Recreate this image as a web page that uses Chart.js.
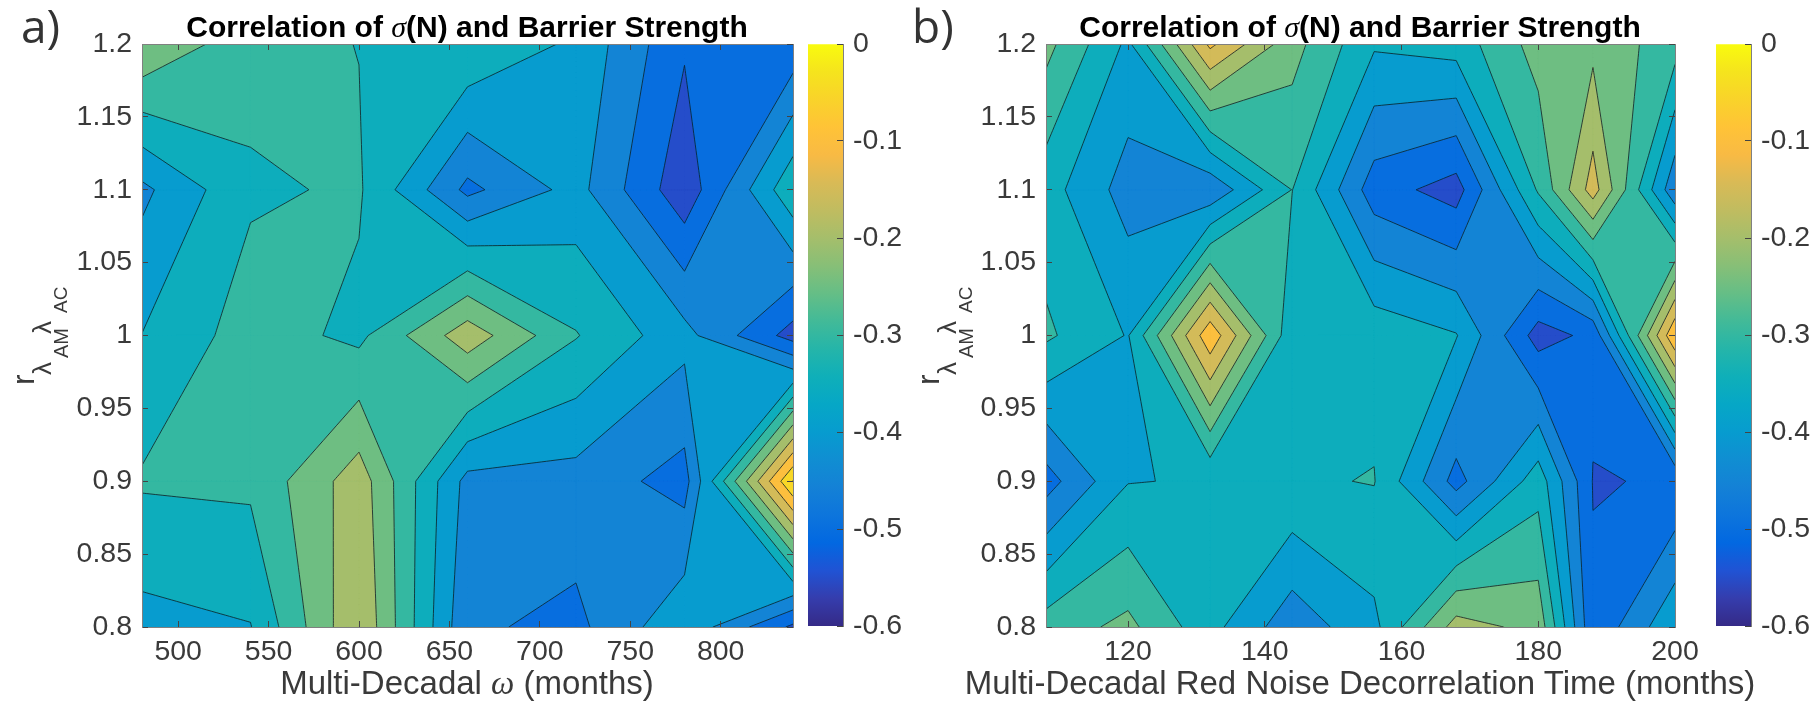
<!DOCTYPE html>
<html>
<head>
<meta charset="utf-8">
<script src="https://cdn.jsdelivr.net/npm/chart.js@4"></script>
<style>
html, body { margin: 0; padding: 0; background: #fff; overflow: hidden; }
body { width: 1814px; height: 702px; position: relative; font-family: "Liberation Sans", sans-serif; }
canvas { position: absolute; top: 0; }
.txt { position: absolute; white-space: nowrap; line-height: 1; color: #3a3a3a; }
.title { font-size: 30px; font-weight: bold; color: #000; transform: translateX(-50%); top: 12px; }
.xlab { font-size: 33px; transform: translateX(-50%); top: 666px; }
.letter { font-family: "Open Sans", sans-serif; font-weight: 400; font-size: 46px; top: 2px; color: #333; }
.rot { transform-origin: 0 0; transform: rotate(-90deg); }
.sym { font-family: "Liberation Serif", serif; font-style: italic; font-weight: normal; }
</style>
</head>
<body>
<canvas id="chartA" width="800" height="702" style="left:0"></canvas>
<canvas id="chartB" width="840" height="702" style="left:882px"></canvas>
<canvas id="barA" width="100" height="702" style="left:808px"></canvas>
<canvas id="barB" width="98" height="702" style="left:1716px"></canvas>

<div class="txt letter" style="left:21px">a)</div>
<div class="txt letter" style="left:912px">b)</div>
<div class="txt title" style="left:467px">Correlation of <span class="sym">σ</span>(N) and Barrier Strength</div>
<div class="txt title" style="left:1360px">Correlation of <span class="sym">σ</span>(N) and Barrier Strength</div>
<div class="txt xlab" style="left:467px">Multi-Decadal <span class="sym">ω</span> (months)</div>
<div class="txt xlab" style="left:1360px">Multi-Decadal Red Noise Decorrelation Time (months)</div>

<!-- y axis labels: r with lambda_AM lambda_AC subscripts -->
<div class="txt rot" style="left:7px;top:385px;font-size:32px">r</div>
<div class="txt rot" style="left:29px;top:375px;font-size:26px">λ</div>
<div class="txt rot" style="left:51px;top:358px;font-size:20px">AM</div>
<div class="txt rot" style="left:29px;top:334px;font-size:26px">λ</div>
<div class="txt rot" style="left:51px;top:313px;font-size:19px">AC</div>
<div class="txt rot" style="left:912px;top:385px;font-size:32px">r</div>
<div class="txt rot" style="left:934px;top:375px;font-size:26px">λ</div>
<div class="txt rot" style="left:956px;top:358px;font-size:20px">AM</div>
<div class="txt rot" style="left:934px;top:334px;font-size:26px">λ</div>
<div class="txt rot" style="left:956px;top:313px;font-size:19px">AC</div>

<script>
// grid nodes of the two contour plots
const yNodes = [1.2, 1.1, 1.0, 0.9, 0.8];
const xNodesA = [480, 540, 600, 660, 720, 780, 840];
const xNodesB = [108, 120, 132, 144, 156, 168, 180, 188, 200];

// correlation values, rows follow yNodes
const valuesA = [
    [-0.202, -0.283, -0.301, -0.303, -0.360, -0.494, -0.485],
    [-0.412, -0.307, -0.294, -0.463, -0.382, -0.535, -0.310],
    [-0.349, -0.276, -0.312, -0.170, -0.297, -0.383, -0.521],
    [-0.294, -0.290, -0.172, -0.417, -0.420, -0.470, 0.003],
    [-0.368, -0.352, -0.153, -0.442, -0.463, -0.361, -0.510]
];
const valuesB = [
    [-0.234, -0.3605, -0.0886, -0.231, -0.343, -0.328, -0.229, -0.214, -0.2775],
    [-0.328, -0.422, -0.440, -0.299, -0.477, -0.522, -0.294, -0.127, -0.438],
    [-0.2915, -0.353, -0.064, -0.3365, -0.318, -0.347, -0.522, -0.487, -0.055],
    [-0.472, -0.352, -0.346, -0.3055, -0.298, -0.469, -0.322, -0.502, -0.497],
    [-0.276, -0.237, -0.333, -0.432, -0.3634, -0.178, -0.216, -0.492, -0.358]
];

const levels = [-0.55, -0.5, -0.45, -0.4, -0.35, -0.3, -0.25, -0.2, -0.15, -0.1, -0.05, 0];

// tick labels
const xTicksA = [500, 550, 600, 650, 700, 750, 800];
const xTicksB = [120, 140, 160, 180, 200];
const yTicks = [0.8, 0.85, 0.9, 0.95, 1, 1.05, 1.1, 1.15, 1.2];
const barTicks = [-0.6, -0.5, -0.4, -0.3, -0.2, -0.1, 0];

// parula, evenly spaced from -0.6 to 0
const parula = ['#352a87', '#353dad', '#2053d4', '#0268e1', '#0d75dc', '#1481d6', '#108ed2', '#079ccf',
    '#06a7c6', '#0fafb9', '#25b5a9', '#42ba98', '#65be86', '#87bf77', '#a5be6b', '#c0bc60',
    '#d9ba56', '#f8ba44', '#ffc337', '#f9d32a', '#f5e41d', '#f9fb0e'];

const tickFont = { family: 'Liberation Sans', size: 28.5 };
const tickColor = '#3a3a3a';
const frameColor = '#808080';

function hexToRgb(h) {
    return [1, 3, 5].map(i => parseInt(h.substr(i, 2), 16));
}

// colour of a level on the -0.6..0 colour axis
function levelColor(v) {
    const t = Math.min(1, Math.max(0, (v + 0.6) / 0.6)) * (parula.length - 1);
    const i = Math.min(parula.length - 2, Math.floor(t));
    const a = hexToRgb(parula[i]);
    const b = hexToRgb(parula[i + 1]);
    const c = a.map((u, k) => Math.round(u + (b[k] - u) * (t - i)));
    return 'rgb(' + c.join(',') + ')';
}

// marching squares on one level: polygons of the region above the level plus contour segments
function contourLevel(xs, ys, z, level) {
    const polys = [];
    const segs = [];
    for (let r = 0; r < ys.length - 1; r++) {
        for (let c = 0; c < xs.length - 1; c++) {
            const corners = [
                { x: xs[c], y: ys[r], v: z[r][c] },
                { x: xs[c + 1], y: ys[r], v: z[r][c + 1] },
                { x: xs[c + 1], y: ys[r + 1], v: z[r + 1][c + 1] },
                { x: xs[c], y: ys[r + 1], v: z[r + 1][c] }
            ];
            const ring = [];
            const cross = [];
            corners.forEach((p, i) => {
                const q = corners[(i + 1) % 4];
                if (p.v >= level) ring.push({ x: p.x, y: p.y });
                if ((p.v >= level) !== (q.v >= level)) {
                    const f = (level - p.v) / (q.v - p.v);
                    const pt = { x: p.x + (q.x - p.x) * f, y: p.y + (q.y - p.y) * f };
                    ring.push(pt);
                    cross.push(pt);
                }
            });
            if (cross.length === 2) {
                polys.push(ring);
                segs.push([cross[0], cross[1]]);
            } else if (cross.length === 4) {
                const centre = (corners[0].v + corners[1].v + corners[2].v + corners[3].v) / 4;
                if (centre >= level) {
                    polys.push(ring);
                    if (corners[0].v >= level) {
                        segs.push([cross[0], cross[1]], [cross[2], cross[3]]);
                    } else {
                        segs.push([cross[3], cross[0]], [cross[1], cross[2]]);
                    }
                } else if (corners[0].v >= level) {
                    polys.push([corners[0], cross[0], cross[3]], [corners[2], cross[2], cross[1]]);
                    segs.push([cross[3], cross[0]], [cross[1], cross[2]]);
                } else {
                    polys.push([corners[1], cross[1], cross[0]], [corners[3], cross[3], cross[2]]);
                    segs.push([cross[0], cross[1]], [cross[2], cross[3]]);
                }
            } else if (corners[0].v >= level) {
                polys.push(ring);
            }
        }
    }
    return { polys, segs };
}

function withGaps(parts, closed) {
    const out = [];
    parts.forEach(p => {
        p.forEach(q => out.push({ x: q.x, y: q.y }));
        if (closed) out.push({ x: p[0].x, y: p[0].y });
        out.push({ x: NaN, y: NaN });
    });
    return out;
}

function buildDatasets(xs, ys, z) {
    const sets = [];
    // base colour under everything
    const base = xs.length - 1;
    sets.push({
        data: [{ x: xs[0], y: ys[0] }, { x: xs[base], y: ys[0] }, { x: xs[base], y: ys[4] }, { x: xs[0], y: ys[4] }, { x: xs[0], y: ys[0] }],
        showLine: true, fill: 'shape', backgroundColor: levelColor(-0.6), borderColor: levelColor(-0.6),
        borderWidth: 0, pointRadius: 0, order: 100
    });
    levels.forEach((lv, i) => {
        const { polys, segs } = contourLevel(xs, ys, z, lv);
        if (!polys.length) return;
        sets.push({
            data: withGaps(polys, true),
            showLine: true, fill: 'shape', tension: 1e-6, spanGaps: false,
            backgroundColor: levelColor(lv), borderColor: levelColor(lv),
            borderWidth: 0.8, pointRadius: 0, order: 50 - i
        });
        sets.push({
            data: withGaps(segs, false),
            showLine: true, fill: false, tension: 1e-6, spanGaps: false,
            borderColor: 'rgba(10,30,40,0.8)', borderWidth: 1, pointRadius: 0, order: 0
        });
    });
    return sets;
}

function setTicks(list) {
    return function (scale) { scale.ticks = list.map(v => ({ value: v })); };
}

// fixed axis box, and no extra room for labels hanging over the plot corners
function setSize(prop, n) {
    return function (scale) {
        scale[prop] = n;
        scale.paddingLeft = scale.paddingRight = scale.paddingTop = scale.paddingBottom = 0;
    };
}

function axisGrid() {
    return { z: 1, drawOnChartArea: false, drawTicks: true, tickLength: -6, tickWidth: 1, tickColor: '#444', color: '#444' };
}

function makePanel(id, xs, z, xTicks, left, right) {
    const xMin = xs[0];
    const xMax = xs[xs.length - 1];
    return new Chart(document.getElementById(id), {
        type: 'scatter',
        data: { datasets: buildDatasets(xs, yNodes, z) },
        options: {
            responsive: false,
            animation: false,
            layout: { autoPadding: false },
            plugins: { legend: { display: false }, tooltip: { enabled: false } },
            scales: {
                x: {
                    type: 'linear', position: 'bottom', min: xMin, max: xMax,
                    afterBuildTicks: setTicks(xTicks), afterFit: setSize('height', 75),
                    grid: axisGrid(), border: { z: 1, color: frameColor },
                    ticks: { font: tickFont, color: tickColor, padding: 14, maxRotation: 0, autoSkip: false, callback: v => String(v) }
                },
                y: {
                    type: 'linear', position: 'left', min: 0.8, max: 1.2,
                    afterBuildTicks: setTicks(yTicks), afterFit: setSize('width', left),
                    grid: axisGrid(), border: { z: 1, color: frameColor },
                    ticks: { font: tickFont, color: tickColor, padding: 16, autoSkip: false, callback: v => String(v) }
                },
                xTop: {
                    type: 'linear', position: 'top', min: xMin, max: xMax,
                    afterBuildTicks: setTicks(xTicks), afterFit: setSize('height', 44),
                    grid: axisGrid(), border: { z: 1, color: frameColor },
                    ticks: { display: false }
                },
                yRight: {
                    type: 'linear', position: 'right', min: 0.8, max: 1.2,
                    afterBuildTicks: setTicks(yTicks), afterFit: setSize('width', right),
                    grid: axisGrid(), border: { z: 1, color: frameColor },
                    ticks: { display: false }
                }
            }
        }
    });
}

function makeBar(id, axisWidth) {
    return new Chart(document.getElementById(id), {
        type: 'bar',
        data: {
            labels: [''],
            datasets: [{
                data: [[-0.6, 0]],
                barPercentage: 1,
                categoryPercentage: 1,
                borderWidth: 0,
                backgroundColor: function (ctx) {
                    const area = ctx.chart.chartArea;
                    if (!area) return parula[0];
                    const g = ctx.chart.ctx.createLinearGradient(0, area.bottom, 0, area.top);
                    parula.forEach((c, i) => g.addColorStop(i / (parula.length - 1), c));
                    return g;
                }
            }]
        },
        options: {
            responsive: false,
            animation: false,
            layout: { autoPadding: false, padding: { top: 44, bottom: 76 } },
            plugins: { legend: { display: false }, tooltip: { enabled: false } },
            scales: {
                x: { display: false },
                y: {
                    position: 'right', min: -0.6, max: 0,
                    afterBuildTicks: setTicks(barTicks), afterFit: setSize('width', axisWidth),
                    grid: axisGrid(), border: { z: 1, color: frameColor },
                    ticks: { font: tickFont, color: tickColor, padding: 16, autoSkip: false, callback: v => String(v) }
                }
            }
        }
    });
}

makePanel('chartA', xNodesA, valuesA, xTicksA, 142, 7);
makePanel('chartB', xNodesB, valuesB, xTicksB, 164, 47);
makeBar('barA', 65);
makeBar('barB', 63);
</script>
</body>
</html>
